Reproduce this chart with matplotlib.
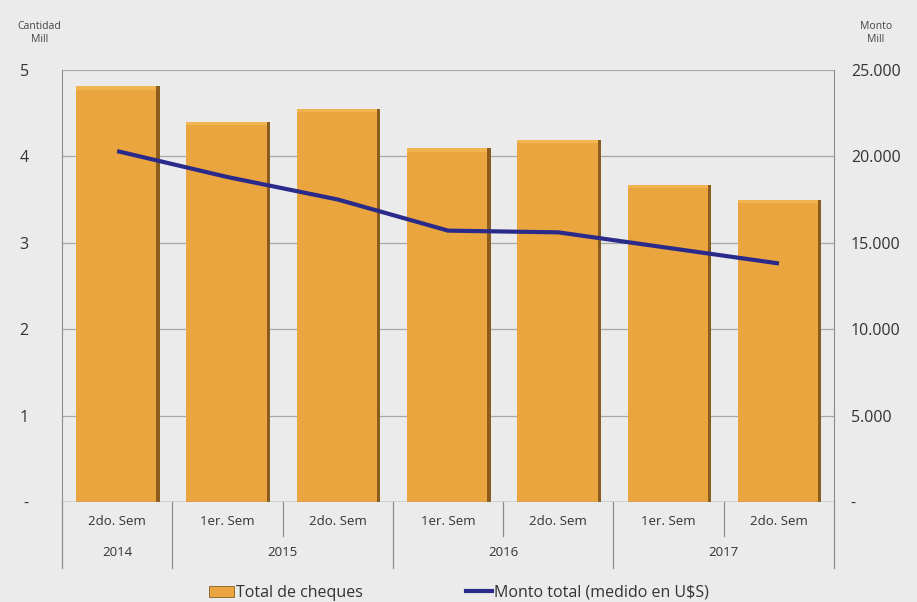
import matplotlib.pyplot as plt
import matplotlib.transforms as mtransforms
from matplotlib.lines import Line2D
from matplotlib.patches import Patch

# datos por semestre
semestres = ["2do. Sem", "1er. Sem", "2do. Sem", "1er. Sem", "2do. Sem", "1er. Sem", "2do. Sem"]
anios = ["2014", "2015", "2016", "2017"]
semestres_por_anio = [1, 2, 2, 2]
cantidad_mill = [4.81, 4.40, 4.55, 4.09, 4.19, 3.67, 3.50]
monto_mill = [20300, 18800, 17500, 15700, 15600, 14700, 13800]

FONDO = "#EBEBEB"
NARANJA = "#EBA53E"
BORDE = "#8A5C1E"
AZUL = "#2A2A8A"
plt.rcParams["font.family"] = ["Open Sans", "DejaVu Sans"]

fig = plt.figure(figsize=(9.17, 6.02), dpi=100, facecolor=FONDO)
ax = fig.add_axes([0.0676, 0.166, 0.842, 0.718], facecolor=FONDO)
x = list(range(len(cantidad_mill)))

# barras con sombra oscura a la derecha
ax.bar([i + 0.01 for i in x], cantidad_mill, width=0.75, color=BORDE, zorder=2)
ax.bar([i - 0.008 for i in x], cantidad_mill, width=0.728, color="#F2B450", zorder=3)
ax.bar([i - 0.008 for i in x], [v - 0.04 for v in cantidad_mill], width=0.728,
       color=NARANJA, zorder=3)

ax.set_xlim(-0.5, len(x) - 0.5)
ax.set_ylim(0, 5)
ax.set_yticks([0, 1, 2, 3, 4, 5])
ax.set_yticklabels(["-", "1", "2", "3", "4", "5"])
ax.grid(axis="y", color="#A8A8A8", linewidth=0.9, zorder=0)
ax.tick_params(axis="y", length=0, pad=24, labelsize=11.5, colors="#333333")
for s in ["top", "bottom", "right"]:
    ax.spines[s].set_visible(False)
ax.spines["left"].set_color("#8C8C8C")
ax.axhline(0, color="#8C8C8C", linewidth=1.0, zorder=4)

# etiquetas del eje x en dos niveles
ax.set_xticks(x)
ax.set_xticklabels([])
ax.tick_params(axis="x", length=0)
trans = mtransforms.blended_transform_factory(ax.transData, ax.transAxes)
for i, lab in enumerate(semestres):
    ax.text(i, -0.045, lab, transform=trans, ha="center", va="center",
            fontsize=9.5, color="#333333")
inicio = 0
for anio, n in zip(anios, semestres_por_anio):
    centro = inicio + (n - 1) / 2
    ax.text(centro, -0.117, anio, transform=trans, ha="center", va="center",
            fontsize=9.5, color="#333333")
    inicio += n
limites_anio = [-0.5]
for n in semestres_por_anio:
    limites_anio.append(limites_anio[-1] + n)
for k in range(len(x) + 1):
    xb = k - 0.5
    largo = -0.152 if xb in limites_anio else -0.078
    ax.add_line(Line2D([xb, xb], [0, largo], transform=trans, color="#8C8C8C",
                       linewidth=0.9, clip_on=False))

# eje derecho: monto
ax2 = ax.twinx()
ax2.plot(x, monto_mill, color=AZUL, linewidth=3, solid_capstyle="butt", zorder=5)
ax2.set_ylim(0, 25000)
ax2.set_yticks([0, 5000, 10000, 15000, 20000, 25000])
ax2.set_yticklabels(["-", "5.000", "10.000", "15.000", "20.000", "25.000"])
ax2.tick_params(axis="y", length=0, pad=12, labelsize=11.5, colors="#333333")
for s in ["top", "bottom", "left"]:
    ax2.spines[s].set_visible(False)
ax2.spines["right"].set_color("#8C8C8C")

fig.text(0.043, 0.945, "Cantidad\nMill", ha="center", va="center", fontsize=7.5,
         color="#444444", linespacing=1.3)
fig.text(0.955, 0.945, "Monto\nMill", ha="center", va="center", fontsize=7.5,
         color="#444444", linespacing=1.3)

handles = [Patch(facecolor=NARANJA, edgecolor=BORDE, linewidth=0.6),
           Line2D([0], [0], color=AZUL, linewidth=3)]
fig.legend(handles, ["Total de cheques", "Monto total (medido en U$S)"],
           loc="center", bbox_to_anchor=(0.5, 0.015), ncol=2, frameon=False,
           fontsize=11.5, handlelength=1.6, handletextpad=0.1, columnspacing=6.5,
           labelcolor="#333333")

fig.savefig("out.png", dpi=100, facecolor=FONDO)
